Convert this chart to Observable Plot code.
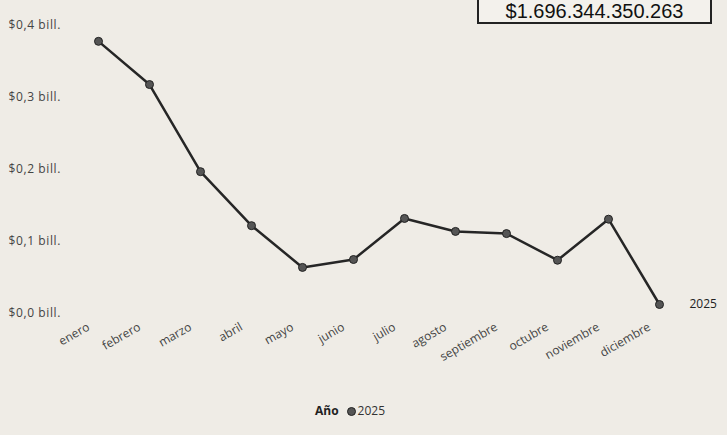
<!DOCTYPE html>
<html>
<head>
<meta charset="utf-8">
<script src="https://cdn.jsdelivr.net/npm/d3@7"></script>
<script src="https://cdn.jsdelivr.net/npm/@observablehq/plot@0.6"></script>
<style>
  html, body { margin: 0; padding: 0; background: #efece6; }
  body { width: 727px; height: 435px; overflow: hidden; position: relative; font-family: "Open Sans", "DejaVu Sans", sans-serif; }
  #total {
    position: absolute; left: 477px; top: -2px; width: 235px; height: 26px;
    box-sizing: border-box; border: 2px solid #222; background: #f3f1ec;
    font-family: "Liberation Sans", Arial, sans-serif; font-size: 20px; line-height: 22px;
    text-align: center; color: #111;
  }
  #legend { position: absolute; top: 402px; left: 0; width: 700px; text-align: center; font-size: 12px; color: #333; }
  #legend b { margin-right: 8px; color: #222; }
  #legend .dot { display: inline-block; width: 9px; height: 9px; border-radius: 50%; background: #555; border: 1px solid #222; vertical-align: -1px; margin-right: 2px; box-sizing: border-box; }
  .yax text { letter-spacing: 0.6px; }
</style>
</head>
<body>
<div id="chart"></div>
<div id="total"></div>
<div id="legend"></div>
<script>
const months = ["enero", "febrero", "marzo", "abril", "mayo", "junio", "julio", "agosto", "septiembre", "octubre", "noviembre", "diciembre"];
const values = [0.378, 0.318, 0.197, 0.122, 0.064, 0.075, 0.132, 0.114, 0.111, 0.074, 0.131, 0.0125];
const yTicks = [0, 0.1, 0.2, 0.3, 0.4];
const yTickLabels = ["$0,0 bill.", "$0,1 bill.", "$0,2 bill.", "$0,3 bill.", "$0,4 bill."];
const seriesName = "2025";
const legendTitle = "Año";
const totalLabel = "$1.696.344.350.263";

const data = months.map((m, i) => ({month: m, value: values[i]}));
const last = [data[data.length - 1]];

const chart = Plot.plot({
  width: 727,
  height: 380,
  marginLeft: 96,
  marginRight: 67,
  marginTop: 25,
  marginBottom: 67,
  x: {type: "point", domain: months, padding: 0},
  y: {domain: [0, 0.4]},
  style: {background: "transparent", fontFamily: "'Open Sans', 'DejaVu Sans', sans-serif", fontSize: "12px", color: "#444"},
  marks: [
    Plot.axisY(yTicks, {tickSize: 0, tickPadding: 0, textAnchor: "start", dx: -88, fontSize: 12, className: "yax", tickFormat: d => yTickLabels[yTicks.indexOf(d)], label: null}),
    Plot.axisX({tickSize: 0, tickRotate: -30, label: null, dx: -10, dy: 0, fontSize: 12}),
    Plot.line(data, {x: "month", y: "value", stroke: "#262626", strokeWidth: 2.5}),
    Plot.dot(data, {x: "month", y: "value", r: 4, fill: "#555", stroke: "#222", strokeWidth: 1}),
    Plot.text(last, {x: "month", y: "value", text: () => seriesName, textAnchor: "start", dx: 30, fontSize: 12, fill: "#222"})
  ]
});
document.getElementById("chart").appendChild(chart);
document.getElementById("total").textContent = totalLabel;
document.getElementById("legend").innerHTML = `<b>${legendTitle}</b><span class="dot"></span>${seriesName}`;
</script>
</body>
</html>
